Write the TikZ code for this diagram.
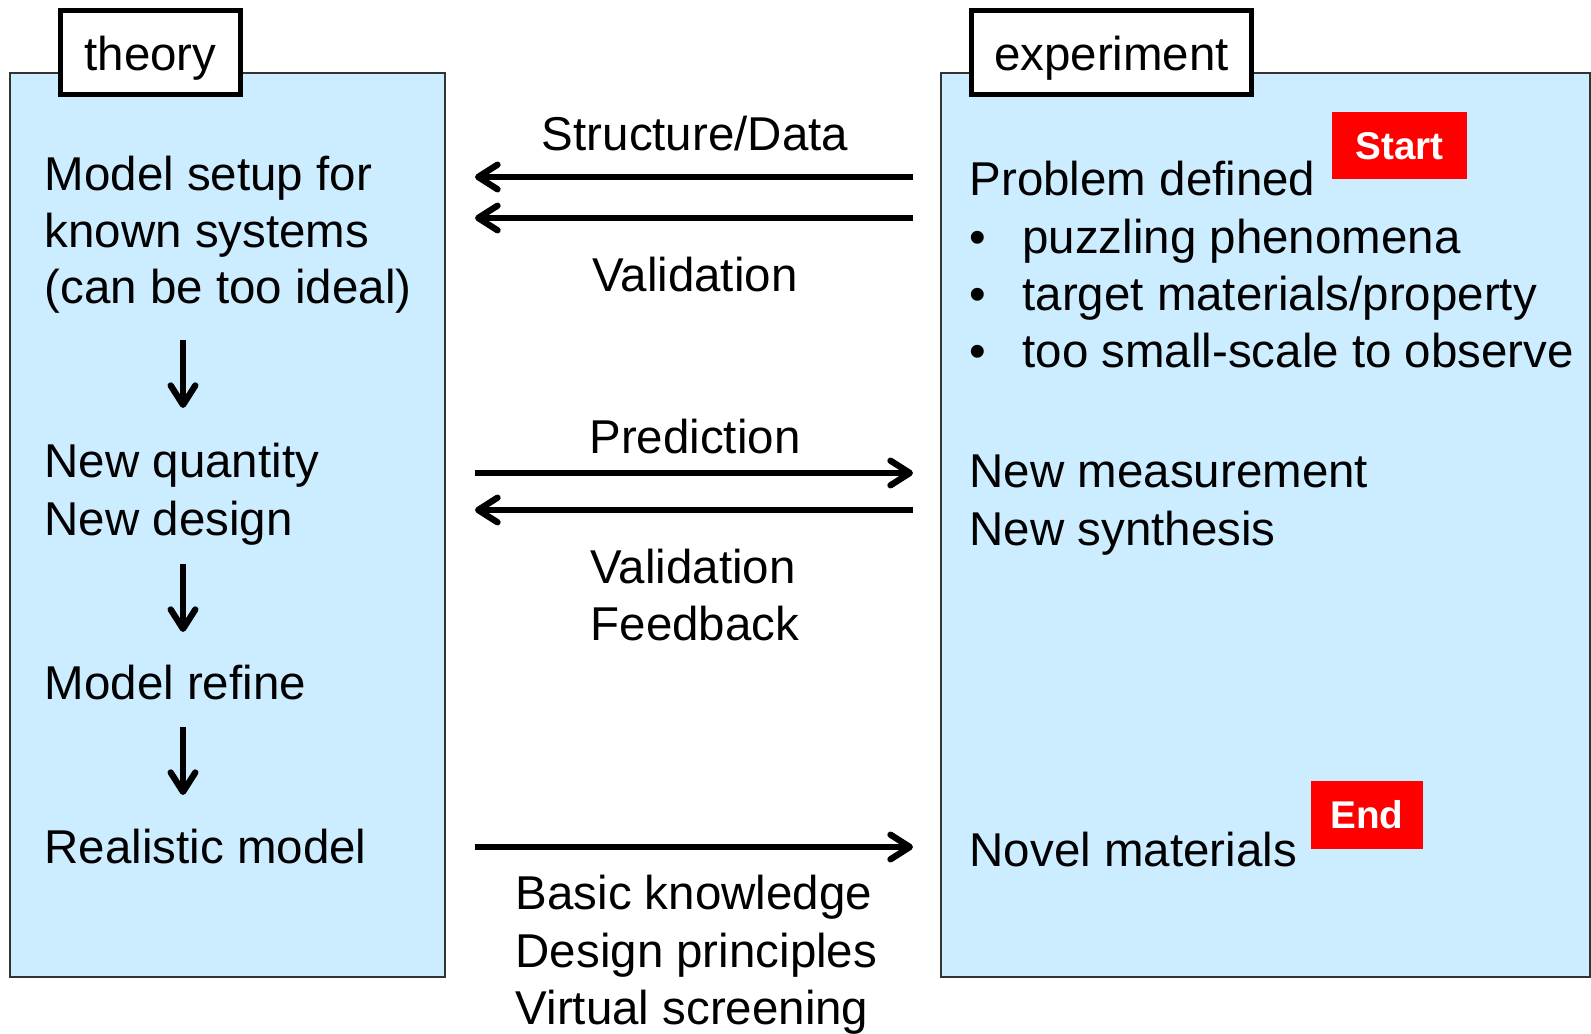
\documentclass[tikz,border=0pt]{standalone}
\usepackage{fontspec}
\setmainfont{Liberation Sans}
\usetikzlibrary{arrows.meta}

\definecolor{panelblue}{RGB}{204,236,255}
\definecolor{tagred}{RGB}{255,0,0}
\newcommand{\txtsize}{\fontsize{13.5pt}{16pt}\selectfont}
\newcommand{\tagsize}{\fontsize{11pt}{13pt}\selectfont\bfseries}
\newcommand{\itm}[1]{\makebox[15pt][l]{\textbullet}#1}

\tikzset{
  panel/.style={draw=black!80, line width=0.6pt, fill=panelblue},
  headbox/.style={draw, line width=1.4pt, fill=white, font=\txtsize, inner sep=0pt,
    text height=10.5pt, text depth=0pt, minimum height=0.84cm},
  tag/.style={fill=tagred, text=white, font=\tagsize, inner sep=0pt,
    text height=7.9pt, text depth=0pt},
  txt/.style={anchor=base west, inner sep=0pt, font=\txtsize},
  mid/.style={anchor=base, inner sep=0pt, font=\txtsize},
  flow/.style={-{Straight Barb[length=5.5pt,width=7pt,round]}, line width=1.8pt},
}

\begin{document}
\begin{tikzpicture}[x=0.01cm, y=-0.01cm]
\useasboundingbox (0,0) rectangle (1591,1034);

% two panels with their headings
\draw[panel] (10,73) rectangle (445,977);
\draw[panel] (941,73) rectangle (1590,977);
\node[headbox, minimum width=1.80cm] (theory) at (150.5,52.5) {theory};
\node[headbox, minimum width=2.80cm] (experiment) at (1111.5,52.5) {experiment};

% theory side
\node[txt] (mset1) at (44,191) {Model setup for};
\node[txt] (mset2) at (44,248) {known systems};
\node[txt] (mset3) at (44,304) {(can be too ideal)};
\node[txt] (newq) at (44,478) {New quantity};
\node[txt] (newd) at (44,536) {New design};
\node[txt] (refine) at (44,699) {Model refine};
\node[txt] (real) at (44,863) {Realistic model};

\coordinate (d1a) at (183,340);  \coordinate (d1b) at (183,408);
\coordinate (d2a) at (183,564);  \coordinate (d2b) at (183,632);
\coordinate (d3a) at (183,727);  \coordinate (d3b) at (183,795);
\draw[flow] (d1a) -- (d1b);
\draw[flow] (d2a) -- (d2b);
\draw[flow] (d3a) -- (d3b);

% experiment side
\node[txt] (prob) at (969,196) {Problem defined};
\node[txt] (prob1) at (969,254) {\itm{puzzling phenomena}};
\node[txt] (prob2) at (969,311) {\itm{target materials/property}};
\node[txt] (prob3) at (969,368) {\itm{too small-scale to observe}};
\node[txt] (meas) at (969,488) {New measurement};
\node[txt] (synth) at (969,546) {New synthesis};
\node[txt] (novel) at (969,866) {Novel materials};

\node[tag, minimum width=1.35cm, minimum height=0.67cm] (start) at (1399.5,145.5) {Start};
\node[tag, minimum width=1.12cm, minimum height=0.68cm] (end) at (1367,815) {End};

% exchange between the two sides
\coordinate (tl) at (475,0);
\coordinate (tr) at (913,0);
\draw[flow] (tr |- 0,177) -- (tl |- 0,177);
\draw[flow] (tr |- 0,218) -- (tl |- 0,218);
\draw[flow] (tl |- 0,473) -- (tr |- 0,473);
\draw[flow] (tr |- 0,510) -- (tl |- 0,510);
\draw[flow] (tl |- 0,847) -- (tr |- 0,847);

\node[mid] (sdata) at (695,151) {Structure/Data};
\node[mid] (valid) at (695,292) {Validation};
\node[mid] (pred) at (695,454) {Prediction};
\node[txt] (valid2) at (590,584) {Validation};
\node[txt] (feed) at (590,641) {Feedback};
\node[txt] (basic) at (515,909) {Basic knowledge};
\node[txt] (design) at (515,967) {Design principles};
\node[txt] (screen) at (515,1024) {Virtual screening};
\end{tikzpicture}
\end{document}
